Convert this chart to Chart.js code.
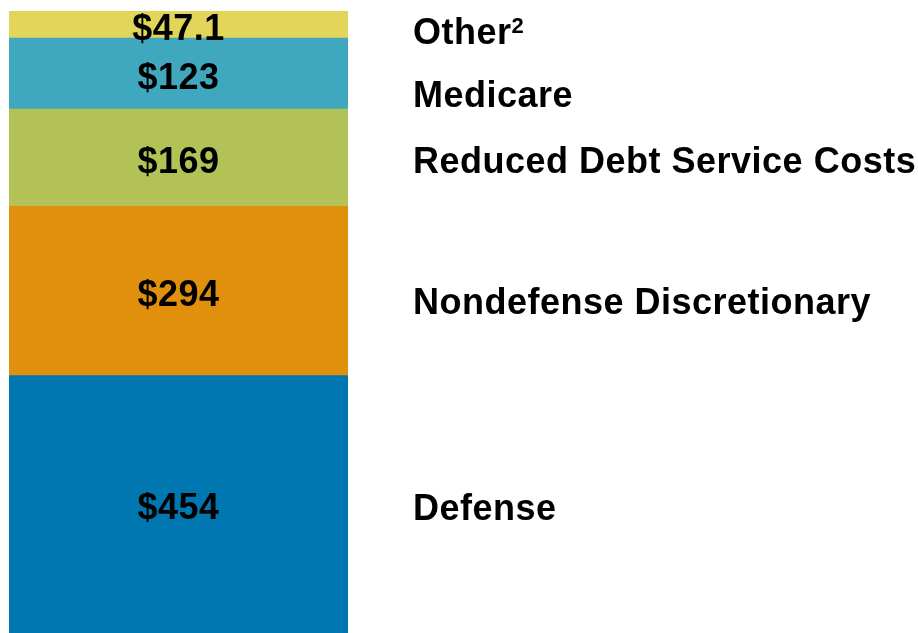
<!DOCTYPE html>
<html>
<head>
<meta charset="utf-8">
<script src="https://cdn.jsdelivr.net/npm/chart.js@4"></script>
<style>
	html, body { margin: 0; padding: 0; background: #fff; }
	#wrap { width: 918px; height: 633px; position: relative; }
</style>
</head>
<body>
<div id="wrap"><canvas id="stackChart"></canvas></div>
<script>
// data, bottom of the stack first
const categories = ['Defense', 'Nondefense Discretionary', 'Reduced Debt Service Costs', 'Medicare', 'Other'];
const superscripts = ['', '', '', '', '2'];
const values = [454, 294, 169, 123, 47.1];
const colors = ['#0077b0', '#e0900c', '#b2c256', '#3fa8bf', '#e2d55a'];

const total = values.reduce(function(a, b) { return a + b; }, 0);
// nudges (px) for the category text to the right of the bar
const labelNudge = [3, 10, 2, 20, 6];

const labelPlugin = {
	id: 'segmentLabels',
	afterDatasetsDraw: function(chart) {
		const ctx = chart.ctx;
		ctx.save();
		ctx.fillStyle = '#000';
		ctx.textBaseline = 'alphabetic';
		ctx.letterSpacing = '0.5px';
		chart.data.datasets.forEach(function(ds, i) {
			const bar = chart.getDatasetMeta(i).data[0];
			const mid = (bar.y + Math.min(bar.base, chart.chartArea.bottom)) / 2;
			ctx.font = 'bold 36px "Liberation Sans", Arial, sans-serif';
			// value inside the segment
			ctx.textAlign = 'center';
			ctx.fillText('$' + values[i], bar.x, mid + 2 + 13);
			// category at the right
			ctx.textAlign = 'left';
			const ly = mid + labelNudge[i] + 13;
			ctx.fillText(categories[i], 413, ly);
			if(superscripts[i]) {
				const w = ctx.measureText(categories[i]).width;
				ctx.font = 'bold 22px "Liberation Sans", Arial, sans-serif';
				ctx.fillText(superscripts[i], 413 + w, ly - 11);
			}
		});
		ctx.restore();
	}
};

new Chart(document.getElementById('stackChart').getContext('2d'), {
	type: 'bar',
	data: {
		labels: [''],
		datasets: categories.map(function(c, i) {
			return {
				label: c,
				data: [values[i]],
				backgroundColor: colors[i],
				borderWidth: 0,
				barPercentage: 1,
				categoryPercentage: 1
			};
		})
	},
	options: {
		responsive: true,
		maintainAspectRatio: false,
		animation: false,
		layout: { padding: { left: 9, right: 570, top: 11, bottom: 0 } },
		scales: {
			x: { stacked: true, display: false },
			// bottom of the bar runs just past the edge of the picture
			y: { stacked: true, display: false, min: 7, max: total }
		},
		plugins: {
			legend: { display: false },
			tooltip: { enabled: false }
		}
	},
	plugins: [labelPlugin]
});
</script>
</body>
</html>
